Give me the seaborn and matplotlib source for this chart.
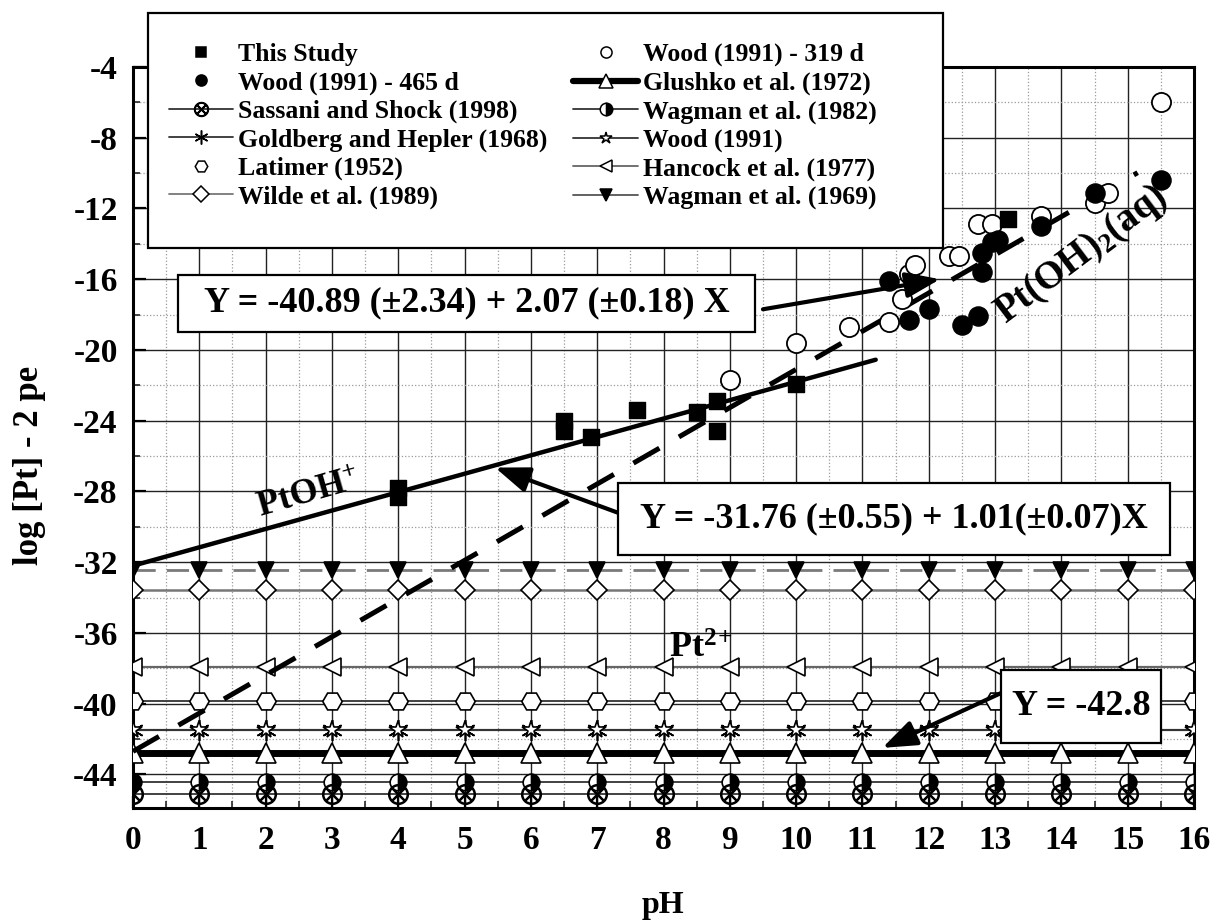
import numpy as np
import seaborn as sns
import matplotlib.pyplot as plt
from matplotlib.lines import Line2D
from matplotlib.patches import Rectangle
from matplotlib.ticker import MultipleLocator

# ---- measured points ----
study_ph = [4.0, 4.0, 6.5, 6.5, 6.9, 7.6, 8.5, 8.8, 8.8, 10.0, 13.2]
study_y = [-27.8, -28.3, -24.0, -24.6, -24.9, -23.4, -23.5, -22.9, -24.6, -21.9, -12.6]

wood465_ph = [11.4, 11.7, 12.0, 12.5, 12.75, 12.8, 12.8, 12.95, 13.05, 13.7, 14.5, 15.5]
wood465_y = [-16.1, -18.3, -17.7, -18.6, -18.1, -14.5, -15.6, -13.9, -13.8, -13.0, -11.1, -10.4]

wood319_ph = [9.0, 10.0, 10.8, 11.4, 11.6, 11.7, 11.8, 12.3, 12.45, 12.75, 12.95, 13.7, 14.5, 14.7, 15.5]
wood319_y = [-21.7, -19.6, -18.7, -18.4, -17.1, -15.7, -15.2, -14.7, -14.7, -12.9, -12.9, -12.4, -11.7, -11.1, -6.0]

# ---- literature constants (log[Pt] - 2pe, flat across pH) ----
ref_ph = np.arange(0, 17)
wagman69_level = -32.45
wilde_level = -33.6
hancock_level = -37.9
latimer_level = -39.85
wood91_level = -41.5
goldberg_level = -41.5
glushko_level = -42.8
wagman82_level = -44.45
sassani_level = -45.1

# ---- fitted lines (intercept, slope, pH range) ----
ptoh_fit = (-32.2, 1.04)
ptoh_range = [0.0, 11.2]
ptoh2_fit = (-42.7, 2.16)
ptoh2_range = [0.0, 15.15]

sns.set_theme(style="white")
plt.rcParams['font.family'] = ['Liberation Serif', 'DejaVu Serif']
plt.rcParams['font.weight'] = 'bold'
plt.rcParams['text.color'] = 'black'
plt.rcParams['axes.labelcolor'] = 'black'
plt.rcParams['axes.unicode_minus'] = False
plt.rcParams['mathtext.fontset'] = 'custom'
plt.rcParams['mathtext.rm'] = 'Liberation Serif:bold'
plt.rcParams['mathtext.it'] = 'Liberation Serif:bold'
plt.rcParams['mathtext.bf'] = 'Liberation Serif:bold'
plt.rcParams['mathtext.default'] = 'rm'

fig = plt.figure(figsize=(12.15, 9.24), dpi=100)
ax = fig.add_axes([133 / 1215, 1 - 808 / 924, (1194 - 133) / 1215, (808 - 67) / 924])
ax.set_xlim(0, 16)
ax.set_ylim(-45.9, -4)

ax.xaxis.set_major_locator(MultipleLocator(1))
ax.xaxis.set_minor_locator(MultipleLocator(0.5))
ax.yaxis.set_major_locator(MultipleLocator(4))
ax.yaxis.set_minor_locator(MultipleLocator(2))
ax.grid(which='major', color='#222222', lw=1.0, ls='-')
ax.grid(which='minor', color='#9a9a9a', lw=0.9, ls=':')
ax.set_axisbelow(True)
ax.tick_params(which='major', direction='in', length=9, width=1.6, labelsize=24,
               bottom=True, left=True, colors='black')
ax.tick_params(axis='x', which='major', pad=12)
ax.tick_params(axis='y', which='major', pad=11)
ax.tick_params(which='minor', direction='in', length=5, width=1.2, bottom=True, left=True)
for sp in ax.spines.values():
    sp.set_linewidth(2.2)
    sp.set_color('black')

# flat literature series, one marker per integer pH
flat = [
    (wagman69_level, dict(marker='v', markersize=12, markerfacecolor='black', color='#7a7a7a', lw=2.0, ls=(0, (8, 4)))),
    (wilde_level, dict(marker='D', markersize=10, markerfacecolor='white', color='#777777', lw=1.8)),
    (hancock_level, dict(marker='<', markersize=13, markerfacecolor='white', color='#666666', lw=1.6)),
    (latimer_level, dict(marker='H', markersize=14, markerfacecolor='white', color='#333333', lw=1.3)),
    (goldberg_level, dict(marker=(6, 2, 0), markersize=15, markerfacecolor='white', color='#333333', lw=1.5)),
    (wood91_level, dict(marker='*', markersize=13, markerfacecolor='white', color='#333333', lw=1.5)),
    (glushko_level, dict(marker='^', markersize=14, markerfacecolor='white', color='black', lw=5.0)),
    (wagman82_level, dict(marker='o', markersize=12, markerfacecolor='black', markerfacecoloralt='white',
                          fillstyle='right', color='#333333', lw=1.3)),
    (sassani_level, dict(marker=r'$\otimes$', markersize=14, markerfacecolor='black', color='#333333', lw=1.3)),
]
for level, style in flat:
    sns.lineplot(x=ref_ph, y=np.full(len(ref_ph), level), ax=ax, errorbar=None,
                 markeredgecolor='black', markeredgewidth=1.2, zorder=3, **style)

# fit lines
px = np.array(ptoh_range)
sns.lineplot(x=px, y=ptoh_fit[0] + ptoh_fit[1] * px, ax=ax, color='black', lw=3.2, zorder=5)
dx = np.array(ptoh2_range)
sns.lineplot(x=dx, y=ptoh2_fit[0] + ptoh2_fit[1] * dx, ax=ax, color='black', lw=3.6,
             ls=(0, (6, 4.5)), zorder=5)

# measured data
sns.scatterplot(x=wood319_ph, y=wood319_y, ax=ax, marker='o', s=190, color='white',
                edgecolor='black', linewidth=1.3, zorder=6)
sns.scatterplot(x=wood465_ph, y=wood465_y, ax=ax, marker='o', s=190, color='black',
                edgecolor='black', linewidth=1.0, zorder=7)
sns.scatterplot(x=study_ph, y=study_y, ax=ax, marker='s', s=140, color='black',
                edgecolor='black', linewidth=1.0, zorder=7)

# equation boxes
boxes = [
    ((0.68, -18.97), 9.38 - 0.68, 3.22, 'Y = -40.89 (\u00b12.34) + 2.07 (\u00b10.18) X'),
    ((7.31, -31.57), 15.64 - 7.31, 4.07, 'Y = -31.76 (\u00b10.55) + 1.01(\u00b10.07)X'),
    ((13.09, -42.2), 15.5 - 13.09, 4.13, 'Y = -42.8'),
]
for (bx, by), bw, bh, txt in boxes:
    ax.add_patch(Rectangle((bx, by), bw, bh, facecolor='white', edgecolor='black',
                           lw=1.6, zorder=9))
    ax.text(bx + bw / 2, by + bh / 2, txt, fontsize=26, ha='center', va='center', zorder=10)

arrow_kw = dict(arrowstyle='-|>,head_length=0.8,head_width=0.3', color='black', lw=3,
                mutation_scale=26, shrinkA=0, shrinkB=0)
ax.annotate('', xy=(12.17, -16.0), xytext=(9.5, -17.7), arrowprops=arrow_kw, zorder=8)
ax.annotate('', xy=(5.46, -26.65), xytext=(7.31, -29.2), arrowprops=arrow_kw, zorder=8)
ax.annotate('', xy=(11.3, -42.5), xytext=(13.09, -39.4), arrowprops=arrow_kw, zorder=8)

# species labels
ax.text(2.65, -28.2, r'PtOH$^{+}$', fontsize=26, rotation=16, ha='center', va='center', zorder=8)
ax.text(14.3, -14.6, r'Pt(OH)$_{2}$(aq)', fontsize=28, rotation=37, ha='center', va='center', zorder=8)
ax.text(8.08, -37.4, r'Pt$^{2}$$^{+}$', fontsize=26, ha='left', va='baseline', zorder=8)

fig.text(663 / 1215, 1 - 905 / 924, 'pH', fontsize=23, ha='center', va='center')
fig.text(29 / 1215, 1 - 465 / 924, 'log [Pt] - 2 pe', fontsize=25, rotation=90,
         ha='center', va='center')

# legend
def h(marker=None, ms=8, mfc='black', ls='-', lw=1.3, color='#333333', **kw):
    return Line2D([], [], marker=marker, markersize=ms, markerfacecolor=mfc,
                  markeredgecolor='black', markeredgewidth=1.1, ls=ls, lw=lw, color=color, **kw)

labels = ['This Study', 'Wood (1991) - 465 d', 'Sassani and Shock (1998)',
          'Goldberg and Hepler (1968)', 'Latimer (1952)', 'Wilde et al. (1989)',
          'Wood (1991) - 319 d', 'Glushko et al. (1972)', 'Wagman et al. (1982)',
          'Wood (1991)', 'Hancock et al. (1977)', 'Wagman et al. (1969)']
handles = [
    h('s', 7, ls='none'),
    h('o', 8, ls='none'),
    h(r'$\otimes$', 10),
    h((6, 2, 0), 10, mfc='white'),
    h('H', 9, mfc='white', ls='none'),
    h('D', 8, mfc='white', color='#777777'),
    h('o', 8, mfc='white', ls='none'),
    h('^', 10, mfc='white', lw=4.5, color='black'),
    h('o', 9, fillstyle='right', markerfacecoloralt='white'),
    h('*', 9, mfc='white'),
    h('<', 9, mfc='white', color='#666666'),
    h('v', 9, color='#555555'),
]
frame = Rectangle((148 / 1215, 1 - 248 / 924), (943 - 148) / 1215, (248 - 13) / 924,
                  transform=fig.transFigure, facecolor='white', edgecolor='black', lw=1.6, zorder=4)
fig.add_artist(frame)
leg = fig.legend(handles, labels, ncol=2, loc='upper left',
                 bbox_to_anchor=(169 / 1215, 1 - 43 / 924), frameon=False, fontsize=18.5,
                 handlelength=2.5, handletextpad=0.2, columnspacing=1.0, labelspacing=0.2,
                 borderpad=0, borderaxespad=0, numpoints=1)
leg.set_zorder(6)

fig.savefig('out.png', dpi=100)
